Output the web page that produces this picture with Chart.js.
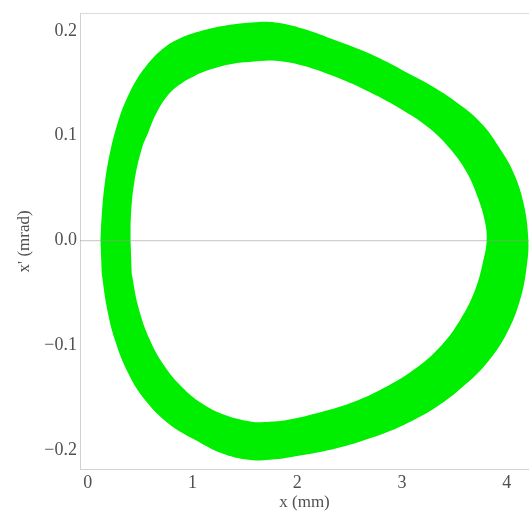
<!DOCTYPE html>
<html>
<head>
<meta charset="utf-8">
<title>Phase space</title>
<script src="https://cdn.jsdelivr.net/npm/chart.js@4/dist/chart.umd.min.js"></script>
<style>
  html, body { margin: 0; padding: 0; background: #ffffff; }
  #wrap { width: 529px; height: 516px; }
</style>
</head>
<body>
<div id="wrap"><canvas id="c" width="529" height="516"></canvas></div>
<script>
// Outer edge of the phase-space band: x (mm), x' (mrad), traced clockwise from the left
const outerX = [0.121, 0.133, 0.164, 0.221, 0.307, 0.371, 0.451, 0.556, 0.710, 0.866,
                1.087, 1.341, 1.565, 1.787, 2.057, 2.376, 2.694, 3.012, 3.331, 3.585,
                3.776, 3.935, 4.062, 4.158, 4.205, 4.190, 4.126, 3.999, 3.808, 3.585,
                3.331, 3.012, 2.694, 2.376, 2.057, 1.739, 1.532, 1.278, 1.023, 0.769,
                0.546, 0.387, 0.260, 0.180, 0.133];
const outerY = [0.000, 0.024, 0.056, 0.088, 0.119, 0.135, 0.151, 0.1663, 0.1823, 0.1922,
                0.200, 0.2055, 0.208, 0.208, 0.202, 0.1905, 0.178, 0.162, 0.1446, 0.127,
                0.1096, 0.0875, 0.0652, 0.0366, 0.002, -0.025, -0.057, -0.0886, -0.117, -0.139,
                -0.1585, -0.176, -0.1885, -0.198, -0.2044, -0.209, -0.209, -0.2028, -0.190, -0.1743,
                -0.152, -0.1267, -0.095, -0.063, -0.0315];

// Inner edge of the band, same direction
const innerX = [0.408, 0.412, 0.444, 0.515, 0.578, 0.646, 0.742, 0.871, 1.023, 1.183,
                1.374, 1.565, 1.787, 2.057, 2.376, 2.694, 3.012, 3.267, 3.458, 3.617,
                3.728, 3.792, 3.808, 3.776, 3.696, 3.553, 3.362, 3.107, 2.821, 2.503,
                2.185, 1.899, 1.739, 1.565, 1.310, 1.087, 0.896, 0.737, 0.594, 0.482,
                0.419];
const innerY = [0.000, 0.024, 0.0557, 0.0875, 0.1033, 0.1196, 0.1358, 0.1482, 0.1572, 0.1636,
                0.1684, 0.1705, 0.1715, 0.1667, 0.1556, 0.1413, 0.1239, 0.1065, 0.0875, 0.0652,
                0.0399, 0.0176, 0.000, -0.0189, -0.0474, -0.0759, -0.1014, -0.1235, -0.1409, -0.1552,
                -0.1647, -0.1711, -0.1727, -0.1727, -0.1664, -0.1552, -0.1394, -0.1204, -0.095, -0.0633,
                -0.0315];

// Axis ranges and tick values
const xRange = [-0.0745, 4.212];
const yRange = [-0.2178, 0.2162];
const xTicks = [0, 1, 2, 3, 4];
const yTicks = [-0.2, -0.1, 0.0, 0.1, 0.2];
const zeroLevel = 0;

const toPoints = (xs, ys) => xs.map((x, i) => ({ x: x, y: ys[i] }));

const GREEN = 'rgb(0,238,0)';
const FRAME = '#d2d2d2';
const TEXT = '#505050';
const SERIF = "'Liberation Serif', 'Times New Roman', serif";

const fmtY = v => {
  const r = Math.round(v * 10) / 10;
  return (r < 0 ? '\u2212' : '') + Math.abs(r).toFixed(1);
};

new Chart(document.getElementById('c'), {
  type: 'scatter',
  data: {
    datasets: [
      {
        label: 'x = 0 reference',
        data: [{ x: xRange[0], y: zeroLevel }, { x: xRange[1], y: zeroLevel }],
        showLine: true,
        borderColor: 'rgba(150,150,150,0.45)',
        borderWidth: 1.2,
        pointRadius: 0,
        fill: false,
        order: 0
      },
      {
        label: 'inner edge',
        data: toPoints(innerX, innerY),
        showLine: true,
        tension: 0.4,
        borderWidth: 0,
        borderColor: '#ffffff',
        backgroundColor: '#ffffff',
        pointRadius: 0,
        fill: 'shape',
        order: 1
      },
      {
        label: 'outer edge',
        data: toPoints(outerX, outerY),
        showLine: true,
        tension: 0.4,
        borderWidth: 0,
        borderColor: GREEN,
        backgroundColor: GREEN,
        pointRadius: 0,
        fill: 'shape',
        order: 2
      }
    ]
  },
  options: {
    responsive: false,
    animation: false,
    events: [],
    layout: { padding: { top: 13, right: 0, bottom: 0, left: 0 } },
    plugins: {
      legend: { display: false },
      tooltip: { enabled: false }
    },
    scales: {
      x: {
        type: 'linear',
        position: 'bottom',
        min: xRange[0],
        max: xRange[1],
        afterFit: s => { s.height = 47; },
        afterBuildTicks: s => { s.ticks = xTicks.map(v => ({ value: v })); },
        grid: { display: false, drawTicks: false },
        border: { display: true, color: FRAME, width: 1 },
        ticks: {
          padding: 3,
          color: TEXT,
          font: { family: SERIF, size: 18 },
          callback: v => String(v)
        },
        title: {
          display: true,
          text: 'x (mm)',
          color: TEXT,
          font: { family: SERIF, size: 17 },
          padding: { top: 0, bottom: 3 }
        }
      },
      xTop: {
        type: 'linear',
        position: 'top',
        axis: 'x',
        min: xRange[0],
        max: xRange[1],
        afterFit: s => { s.height = 0; },
        grid: { display: false, drawTicks: false },
        border: { display: true, color: '#dcdcdc', width: 1 },
        ticks: { display: false }
      },
      y: {
        type: 'linear',
        position: 'left',
        min: yRange[0],
        max: yRange[1],
        afterFit: s => { s.width = 80; },
        afterBuildTicks: s => { s.ticks = yTicks.map(v => ({ value: v })); },
        grid: { display: false, drawTicks: false },
        border: { display: true, color: FRAME, width: 1 },
        ticks: {
          padding: 3,
          color: TEXT,
          font: { family: SERIF, size: 18 },
          callback: v => fmtY(v)
        },
        title: {
          display: true,
          text: "x' (mrad)",
          color: TEXT,
          font: { family: SERIF, size: 17 },
          padding: { top: 14, bottom: 0 }
        }
      }
    }
  }
});
</script>
</body>
</html>
